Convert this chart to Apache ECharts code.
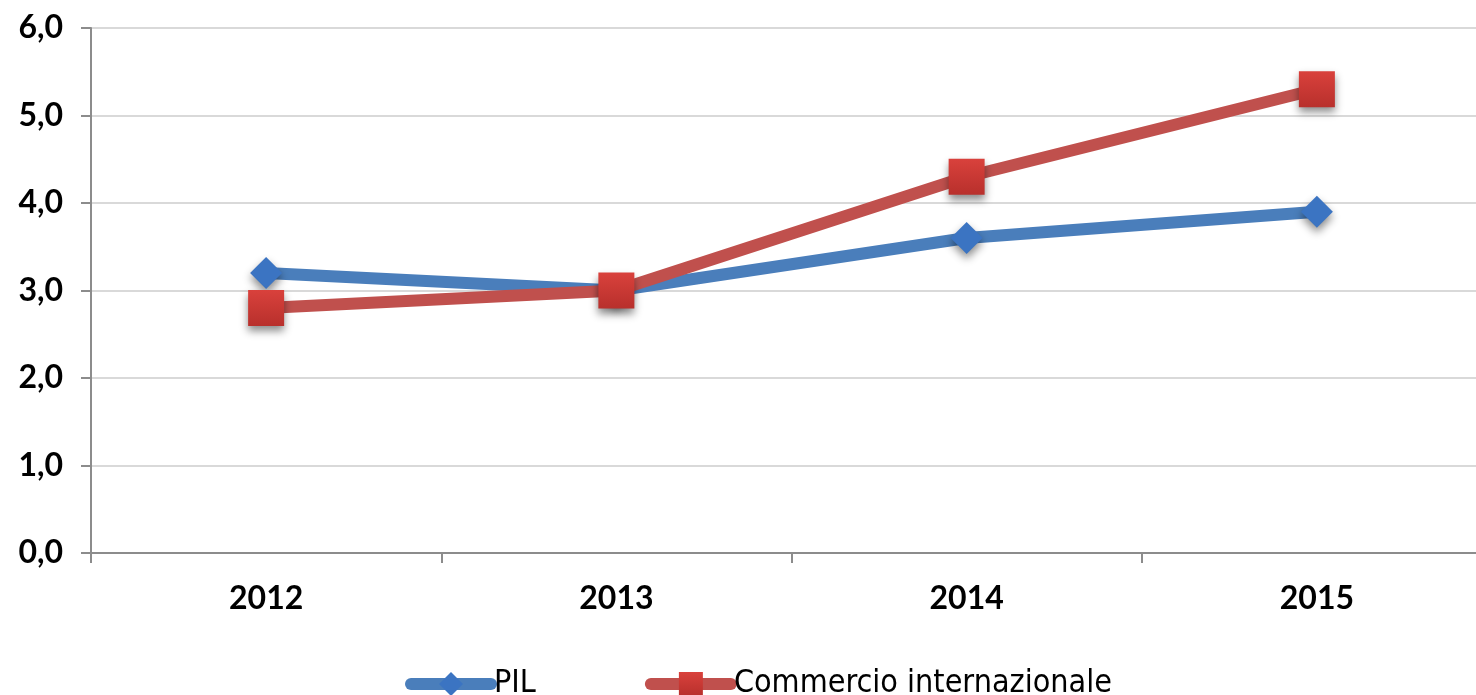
<!DOCTYPE html>
<html>
<head>
<meta charset="utf-8">
<script src="https://cdn.jsdelivr.net/npm/echarts@6/dist/echarts.min.js"></script>
<style>
  html, body { margin: 0; padding: 0; background: #fff; }
  #chart { width: 1476px; height: 695px; }
</style>
</head>
<body>
<div id="chart"></div>
<script>
// dati
const years = ['2012', '2013', '2014', '2015']
const pil = [3.2, 3.0, 3.6, 3.9]
const commercio = [2.8, 3.0, 4.3, 5.3]
const yTicks = ['0,0', '1,0', '2,0', '3,0', '4,0', '5,0', '6,0']

const chart = echarts.init(document.getElementById('chart'))

const markerShadow = {
  shadowBlur: 8,
  shadowColor: 'rgba(0, 0, 0, 0.45)',
  shadowOffsetY: 5,
}

chart.setOption({
  backgroundColor: '#fff',
  animation: false,
  grid: { left: 91, right: -16, top: 28, bottom: 142, outerBoundsMode: 'none' },
  legend: {
    bottom: -10,
    left: 400,
    itemWidth: 80,
    itemHeight: 30,
    itemGap: 109,
    lineStyle: { width: 12, cap: 'round' },
    textStyle: {
      fontFamily: 'DejaVu Sans Condensed',
      fontSize: 32,
      color: '#000',
      padding: [0, 0, 0, -2],
    },
    data: ['PIL', 'Commercio internazionale'],
  },
  xAxis: {
    type: 'category',
    data: years,
    boundaryGap: true,
    axisLine: { lineStyle: { color: '#8c8c8c', width: 2 } },
    axisTick: { show: true, length: 10, lineStyle: { color: '#8c8c8c', width: 2 } },
    axisLabel: {
      margin: 30,
      color: '#000',
      fontFamily: 'Lato',
      fontWeight: 'bold',
      fontSize: 32,
    },
  },
  yAxis: {
    type: 'value',
    min: 0,
    max: 6,
    interval: 1,
    axisLine: { show: true, lineStyle: { color: '#8c8c8c', width: 2 } },
    axisTick: { show: true, length: 10, lineStyle: { color: '#8c8c8c', width: 2 } },
    splitLine: { lineStyle: { color: '#d9d9d9', width: 2 } },
    axisLabel: {
      margin: 28,
      color: '#000',
      fontFamily: 'Lato',
      fontWeight: 'bold',
      fontSize: 32,
      formatter: (v) => yTicks[Math.round(v)],
    },
  },
  series: [
    {
      name: 'PIL',
      type: 'line',
      data: pil,
      symbol: 'diamond',
      symbolSize: 32,
      lineStyle: { color: '#4a7ebb', width: 12 },
      itemStyle: Object.assign({ color: '#3b74c2' }, markerShadow),
    },
    {
      name: 'Commercio internazionale',
      type: 'line',
      data: commercio,
      symbol: 'rect',
      symbolSize: 36,
      lineStyle: { color: '#c0504d', width: 12 },
      itemStyle: Object.assign({
        color: new echarts.graphic.LinearGradient(0, 0, 0, 1, [
          { offset: 0, color: '#d9413c' },
          { offset: 1, color: '#b8302c' },
        ]),
      }, markerShadow),
    },
  ],
})
</script>
</body>
</html>
